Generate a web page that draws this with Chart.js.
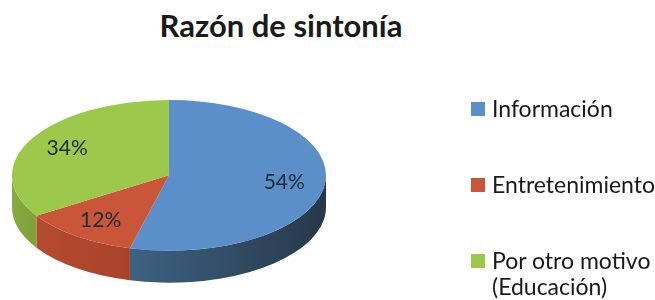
<!DOCTYPE html>
<html lang="es">
<head>
  <meta charset="UTF-8">
  <title>Razón de sintonía</title>
  <script src="https://cdn.jsdelivr.net/npm/chart.js"></script>
  <style>
    * { margin: 0; padding: 0; box-sizing: border-box; }
    body { width: 655px; height: 300px; background: #fff; overflow: hidden; font-family: Lato, 'Open Sans', sans-serif; color: #1a1a1a; }
    .wrap { position: relative; width: 655px; height: 300px; }
    h1 { position: absolute; left: 0; top: 7px; width: 562px; text-align: center; font-size: 31px; line-height: 37px; font-weight: 700; }
    canvas { position: absolute; left: 0; top: 0; }
    .legend { position: absolute; left: 471px; top: 95px; list-style: none; font-size: 23px; white-space: nowrap; }
    .legend li { position: relative; padding-left: 21px; line-height: 26px; margin-bottom: 50px; }
    .legend li span { position: absolute; left: 0; top: 7px; width: 14px; height: 14px; }
  </style>
</head>
<body>
  <div class="wrap">
    <h1>Razón de sintonía</h1>
    <canvas id="pie" width="655" height="300"></canvas>
    <ul class="legend" id="legend"></ul>
  </div>

  <script>
    const categories = ['Información', 'Entretenimiento', ['Por otro motivo', '(Educación)']];
    const shares = [54, 12, 34];

    const topColors = ['#5a8fc9', '#c95638', '#9cc84c'];
    const sideColors = [['#3d6282', '#26384a'], ['#b54a2f', '#a8432a'], ['#86ab3e', '#7e9f3a']];
    const TILT = 0.48;     // vertical squash of the pie
    const DEPTH = 32;      // thickness of the 3d side
    const LABEL_R = 0.74;

    // squash the pie into an ellipse and draw a side wall under it
    const tiltPlugin = {
      id: 'tilt',
      beforeDatasetsDraw(chart) {
        const { ctx, chartArea } = chart;
        const arcs = chart.getDatasetMeta(0).data;
        const rx = chartArea.width / 2, ry = rx * TILT;
        const cx = (chartArea.left + chartArea.right) / 2, cy = chartArea.top + ry;
        chart.$tilt = { cx, cy, rx, ry };

        ctx.save();
        arcs.forEach((arc, i) => {
          const s = Math.max(arc.startAngle, 0), e = Math.min(arc.endAngle, Math.PI);
          if (s >= e) return;
          ctx.beginPath();
          ctx.ellipse(cx, cy, rx, ry, 0, s, e);
          ctx.lineTo(cx + rx * Math.cos(e), cy + ry * Math.sin(e) + DEPTH);
          ctx.ellipse(cx, cy + DEPTH, rx, ry, 0, e, s, true);
          ctx.closePath();
          const g = ctx.createLinearGradient(cx + rx * Math.cos(e), 0, cx + rx * Math.cos(s), 0);
          g.addColorStop(0, sideColors[i][0]);
          g.addColorStop(1, sideColors[i][1]);
          ctx.fillStyle = g;
          ctx.fill();
        });
        ctx.restore();

        const a0 = arcs[0];
        ctx.save();
        ctx.translate(cx, cy);
        ctx.scale(rx / a0.outerRadius, ry / a0.outerRadius);
        ctx.translate(-a0.x, -a0.y);
      },
      afterDatasetsDraw(chart) {
        const { ctx } = chart;
        ctx.restore();
        const { cx, cy, rx, ry } = chart.$tilt;
        ctx.save();
        ctx.font = '21px Lato, sans-serif';
        ctx.fillStyle = '#1e2a36';
        ctx.textAlign = 'center';
        ctx.textBaseline = 'middle';
        chart.getDatasetMeta(0).data.forEach((arc, i) => {
          const mid = (arc.startAngle + arc.endAngle) / 2;
          ctx.fillText(shares[i] + '%', cx + rx * LABEL_R * Math.cos(mid), cy + ry * LABEL_R * Math.sin(mid));
        });
        ctx.restore();
      }
    };

    new Chart(document.getElementById('pie'), {
      type: 'pie',
      data: {
        labels: categories.map(c => [].concat(c).join(' ')),
        datasets: [{ data: shares, backgroundColor: topColors, borderWidth: 0, clip: false }]
      },
      options: {
        responsive: false,
        animation: false,
        layout: { padding: { left: 12, right: 329, top: 100, bottom: 0 } },
        plugins: { legend: { display: false }, tooltip: { enabled: false } }
      },
      plugins: [tiltPlugin]
    });

    document.getElementById('legend').innerHTML = categories.map((c, i) =>
      `<li><span style="background:${topColors[i]}"></span>${[].concat(c).join('<br>')}</li>`).join('');
  </script>
</body>
</html>
